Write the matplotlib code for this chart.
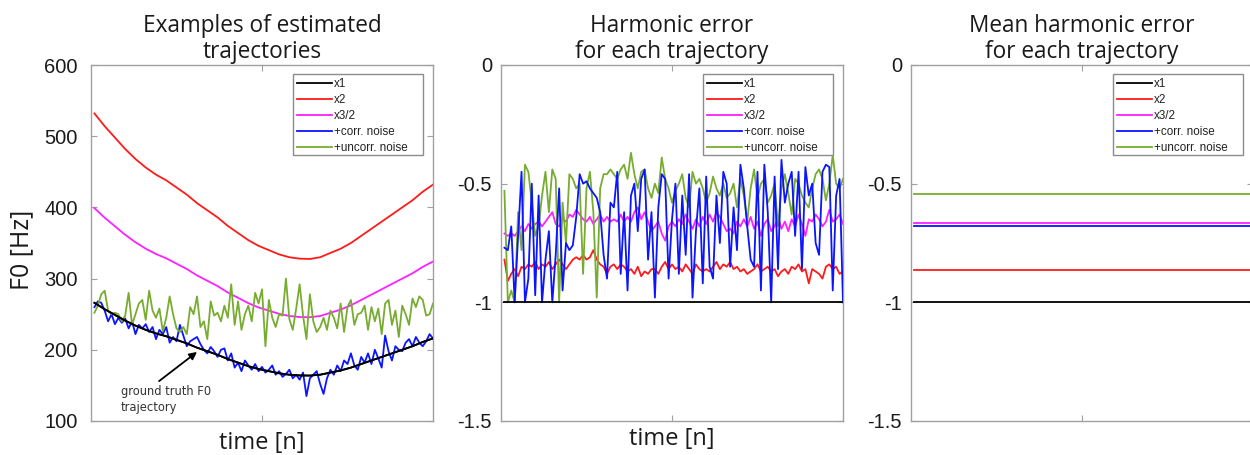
import matplotlib
matplotlib.use("Agg")
import matplotlib.pyplot as plt
from matplotlib.patches import Rectangle

# ---------------- data ----------------
N = 100
t = list(range(1, N + 1))

# smooth trajectories sampled every 3 frames
t_smooth = list(range(1, 101, 3))
f0_x1 = [266, 257, 249, 241, 234, 228, 223, 219, 214, 209, 203, 198, 193, 187, 182,
         177, 173, 170, 167, 165, 164, 163.8, 165, 168, 171, 175, 180, 185, 190, 195,
         200, 205, 211, 216]
f0_x2 = [532, 514, 498, 482, 468, 456, 446, 438, 428, 418, 406, 396, 386, 374, 364,
         354, 346, 340, 334, 330, 328, 327.6, 330, 336, 342, 350, 360, 370, 380, 390,
         400, 410, 422, 432]
f0_x32 = [399, 385.5, 373.5, 361.5, 351, 342, 334.5, 328.5, 321, 313.5, 304.5, 297,
          289.5, 280.5, 273, 265.5, 259.5, 255, 250.5, 247.5, 246, 245.7, 247.5, 252,
          256.5, 262.5, 270, 277.5, 285, 292.5, 300, 307.5, 316.5, 324]

f0_corr = [260, 268, 266, 255, 240, 250, 236, 245, 238, 244,
           230, 240, 222, 235, 230, 236, 225, 232, 215, 228,
           222, 232, 210, 218, 212, 235, 220, 205, 212, 215,
           218, 208, 200, 195, 204, 198, 190, 200, 202, 185,
           195, 175, 182, 170, 185, 178, 172, 180, 170, 176,
           168, 172, 178, 165, 170, 162, 166, 172, 160, 165,
           158, 168, 135, 160, 165, 170, 152, 138, 160, 172,
           165, 178, 170, 185, 180, 195, 178, 172, 190, 182,
           195, 180, 200, 188, 175, 220, 198, 185, 205, 200,
           198, 210, 215, 205, 218, 210, 205, 212, 222, 216]

f0_uncorr = [252, 262, 278, 283, 255, 250, 252, 250, 240, 248,
             280, 235, 250, 265, 270, 242, 283, 255, 245, 258,
             226, 245, 275, 250, 230, 225, 232, 222, 260, 250,
             275, 232, 240, 215, 268, 248, 252, 240, 262, 245,
             292, 235, 268, 228, 250, 262, 240, 280, 265, 285,
             205, 270, 245, 232, 250, 248, 300, 243, 228, 258,
             292, 248, 215, 278, 240, 225, 232, 245, 228, 255,
             245, 230, 265, 225, 260, 270, 235, 250, 252, 262,
             228, 260, 240, 258, 222, 265, 270, 235, 255, 218,
             262, 250, 235, 272, 260, 275, 270, 248, 250, 265]

err_x1 = [-1.0] * N
err_x2 = [-0.82, -0.91, -0.88, -0.86, -0.89, -0.85, -0.86, -0.84, -0.85, -0.83,
          -0.86, -0.84, -0.85, -0.83, -0.86, -0.84, -0.82, -0.84, -0.86, -0.84,
          -0.82, -0.81, -0.82, -0.80, -0.82, -0.81, -0.78, -0.82, -0.84, -0.85,
          -0.88, -0.85, -0.84, -0.86, -0.84, -0.85, -0.87, -0.86, -0.88, -0.85,
          -0.89, -0.87, -0.88, -0.86, -0.86, -0.88, -0.85, -0.83, -0.86, -0.84,
          -0.86, -0.85, -0.87, -0.84, -0.86, -0.88, -0.84, -0.86, -0.87, -0.86,
          -0.87, -0.85, -0.83, -0.86, -0.84, -0.85, -0.83, -0.86, -0.85, -0.87,
          -0.86, -0.88, -0.87, -0.86, -0.84, -0.87, -0.86, -0.85, -0.87, -0.86,
          -0.89, -0.87, -0.86, -0.88, -0.85, -0.86, -0.84, -0.87, -0.86, -0.92,
          -0.86, -0.87, -0.88, -0.90, -0.85, -0.84, -0.86, -0.85, -0.88, -0.87]
err_x32 = [-0.71, -0.72, -0.71, -0.72, -0.70, -0.68, -0.70, -0.67, -0.69, -0.67,
           -0.66, -0.68, -0.66, -0.64, -0.62, -0.67, -0.68, -0.65, -0.66, -0.63,
           -0.64, -0.61, -0.63, -0.65, -0.66, -0.64, -0.67, -0.65, -0.63, -0.66,
           -0.64, -0.66, -0.65, -0.66, -0.63, -0.66, -0.64, -0.66, -0.62, -0.60,
           -0.65, -0.62, -0.66, -0.70, -0.68, -0.66, -0.71, -0.74, -0.68, -0.66,
           -0.68, -0.65, -0.67, -0.63, -0.66, -0.69, -0.65, -0.68, -0.64, -0.67,
           -0.63, -0.66, -0.62, -0.64, -0.67, -0.70, -0.69, -0.71, -0.66, -0.68,
           -0.65, -0.68, -0.64, -0.69, -0.66, -0.72, -0.67, -0.65, -0.70, -0.68,
           -0.64, -0.69, -0.66, -0.70, -0.65, -0.68, -0.63, -0.67, -0.72, -0.65,
           -0.66, -0.63, -0.65, -0.68, -0.66, -0.61, -0.66, -0.65, -0.63, -0.67]
err_corr = [-0.77, -0.78, -0.68, -1.00, -0.72, -0.45, -1.00, -0.90, -0.50, -0.97,
            -0.55, -1.00, -0.82, -0.70, -1.00, -0.80, -0.52, -0.95, -0.75, -0.78,
            -0.76, -0.64, -0.46, -0.50, -0.49, -0.52, -0.54, -0.56, -0.62, -0.80,
            -0.90, -0.58, -0.60, -0.45, -0.88, -0.62, -0.95, -0.55, -0.50, -0.70,
            -0.48, -0.44, -0.82, -0.62, -0.98, -0.60, -0.46, -0.48, -0.90, -0.65,
            -0.50, -0.88, -0.55, -0.80, -0.46, -0.98, -0.70, -0.52, -0.92, -0.47,
            -0.85, -0.90, -0.55, -0.75, -0.45, -0.50, -0.85, -0.60, -0.78, -0.42,
            -0.52, -0.68, -0.82, -0.85, -0.45, -0.95, -0.42, -0.62, -1.00, -0.47,
            -0.86, -0.40, -0.58, -0.50, -0.45, -0.72, -0.45, -0.86, -0.43, -0.55,
            -0.50, -0.75, -0.80, -0.45, -0.42, -0.43, -0.95, -0.55, -0.48, -1.00]
err_uncorr = [-0.53, -1.00, -0.95, -1.00, -0.62, -0.78, -0.42, -0.45, -0.58, -0.72,
              -0.68, -0.55, -0.45, -0.62, -0.44, -0.48, -1.00, -0.58, -0.75, -0.46,
              -0.48, -0.52, -0.50, -0.88, -0.52, -0.45, -0.62, -0.98, -0.52, -0.46,
              -0.46, -0.44, -0.46, -0.48, -0.44, -0.42, -0.48, -0.37, -0.46, -0.52,
              -0.45, -0.44, -0.52, -0.56, -0.50, -0.54, -0.39, -0.48, -0.52, -0.58,
              -0.53, -0.50, -0.46, -0.56, -0.60, -0.45, -0.50, -0.48, -0.52, -0.58,
              -0.54, -0.47, -0.52, -0.55, -0.50, -0.56, -0.54, -0.50, -0.60, -0.48,
              -0.55, -0.66, -0.52, -0.44, -0.56, -0.50, -0.48, -0.58, -0.55, -0.50,
              -0.68, -0.52, -0.46, -0.54, -0.63, -0.48, -0.50, -0.55, -0.58, -0.60,
              -0.52, -0.46, -0.44, -0.48, -0.57, -0.50, -0.38, -0.50, -0.52, -0.48]

mean_err = {"x1": -1.0, "x2": -0.864, "x3/2": -0.667,
            "+corr. noise": -0.680, "+uncorr. noise": -0.544}

labels = ["x1", "x2", "x3/2", "+corr. noise", "+uncorr. noise"]
colors = ["#000000", "#ff1a1a", "#ff20ff", "#0a14ff", "#77ac30"]

titles = ["Examples of estimated\ntrajectories",
          "Harmonic error\nfor each trajectory",
          "Mean harmonic error\nfor each trajectory"]

f0_ticks = [100, 200, 300, 400, 500, 600]
err_ticks = [0, -0.5, -1, -1.5]
err_ticklabels = ["0", "-0.5", "-1", "-1.5"]

annot_text = "ground truth F0\ntrajectory"
annot_xy = (31, 197)
annot_xytext = (19.9, 156)
annot_textpos = (8.8, 151)

# ---------------- figure ----------------
W, H = 1250, 455
fig = plt.figure(figsize=(W / 100, H / 100), dpi=100)
spine_col = "#a0a0a0"
title_font = "Open Sans"
tick_font = "Liberation Sans"
text_col = "#1a1a1a"

lefts = [91, 501, 911]
ax_w, ax_top, ax_bot = 342, 65, 421
ax_h = ax_bot - ax_top
axes = []
for L in lefts:
    ax = fig.add_axes([L / W, 1 - ax_bot / H, ax_w / W, ax_h / H])
    axes.append(ax)

lw = 1.3
ax1, ax2, ax3 = axes
ax1.plot(t_smooth, f0_x1, color=colors[0], lw=lw, label=labels[0], zorder=5)
ax1.plot(t_smooth, f0_x2, color=colors[1], lw=lw, label=labels[1])
ax1.plot(t_smooth, f0_x32, color=colors[2], lw=lw, label=labels[2])
ax1.plot(t, f0_corr, color=colors[3], lw=lw, label=labels[3])
ax1.plot(t, f0_uncorr, color=colors[4], lw=lw, label=labels[4])
ax1.plot(t_smooth, f0_x1, color=colors[0], lw=lw, zorder=6)
ax1.set_ylim(100, 600)
ax1.set_yticks(f0_ticks)
ax1.set_yticklabels([str(v) for v in f0_ticks])

ax2.plot(t, err_x1, color=colors[0], lw=lw, label=labels[0], zorder=6)
ax2.plot(t, err_x2, color=colors[1], lw=lw, label=labels[1])
ax2.plot(t, err_x32, color=colors[2], lw=lw, label=labels[2])
ax2.plot(t, err_corr, color=colors[3], lw=lw, label=labels[3], zorder=4)
ax2.plot(t, err_uncorr, color=colors[4], lw=lw, label=labels[4], zorder=3)

for lab, c in zip(labels, colors):
    ax3.plot([t[0], t[-1]], [mean_err[lab], mean_err[lab]], color=c, lw=lw, label=lab)

for ax in (ax2, ax3):
    ax.set_ylim(-1.5, 0)
    ax.set_yticks(err_ticks)
    ax.set_yticklabels(err_ticklabels)

# legend box geometry in pixels relative to the axes' top-left
box_l, box_r, box_t, box_b = 293 - 91, 423 - 91, 74 - 65, 155 - 65

for i, ax in enumerate(axes):
    ax.set_xlim(0, N)
    ax.set_xticks([N / 2])
    ax.set_xticklabels([])
    for s in ax.spines.values():
        s.set_color(spine_col)
        s.set_linewidth(1.0)
    ax.tick_params(direction="in", length=4, width=0.8, color=spine_col,
                   top=True, right=True, labelsize=14.5,
                   labelcolor=text_col, pad=(9.5 if i == 0 else 6.5))
    for lbl in ax.get_yticklabels():
        lbl.set_family(tick_font)
    ax.set_title(titles[i], fontsize=16.3, family=title_font, color=text_col,
                 pad=5, linespacing=1.12)
    frame = Rectangle((box_l / ax_w, 1 - box_b / ax_h),
                      (box_r - box_l) / ax_w, (box_b - box_t) / ax_h,
                      transform=ax.transAxes, facecolor="white",
                      edgecolor="#8c8c8c", lw=1.0, zorder=7)
    ax.add_patch(frame)
    leg = ax.legend(loc="upper left",
                    bbox_to_anchor=((box_l + 4) / ax_w, 1 - (box_t + 4) / ax_h),
                    borderaxespad=0, frameon=False, handlelength=3.0,
                    handletextpad=0.2, labelspacing=0.34, borderpad=0.0,
                    prop={"family": tick_font, "size": 8.4})
    leg.set_zorder(8)
    for txt in leg.get_texts():
        txt.set_color("#222222")

ax1.set_ylabel("F0 [Hz]", fontsize=18, family=title_font, color=text_col,
               labelpad=7, y=0.48)
ax1.set_xlabel("time [n]", fontsize=17, family=title_font, color=text_col, labelpad=-2)
ax2.set_xlabel("time [n]", fontsize=17, family=title_font, color=text_col, labelpad=-2)

ax1.annotate("", xy=annot_xy, xytext=annot_xytext,
             arrowprops=dict(arrowstyle="-|>", color="black", lw=1.3,
                             mutation_scale=11, shrinkA=0, shrinkB=0))
ax1.text(annot_textpos[0], annot_textpos[1], annot_text, fontsize=8.3,
         family="DejaVu Sans", color="#333333", va="top", ha="left",
         linespacing=1.35)

fig.savefig("out.png", dpi=100)
